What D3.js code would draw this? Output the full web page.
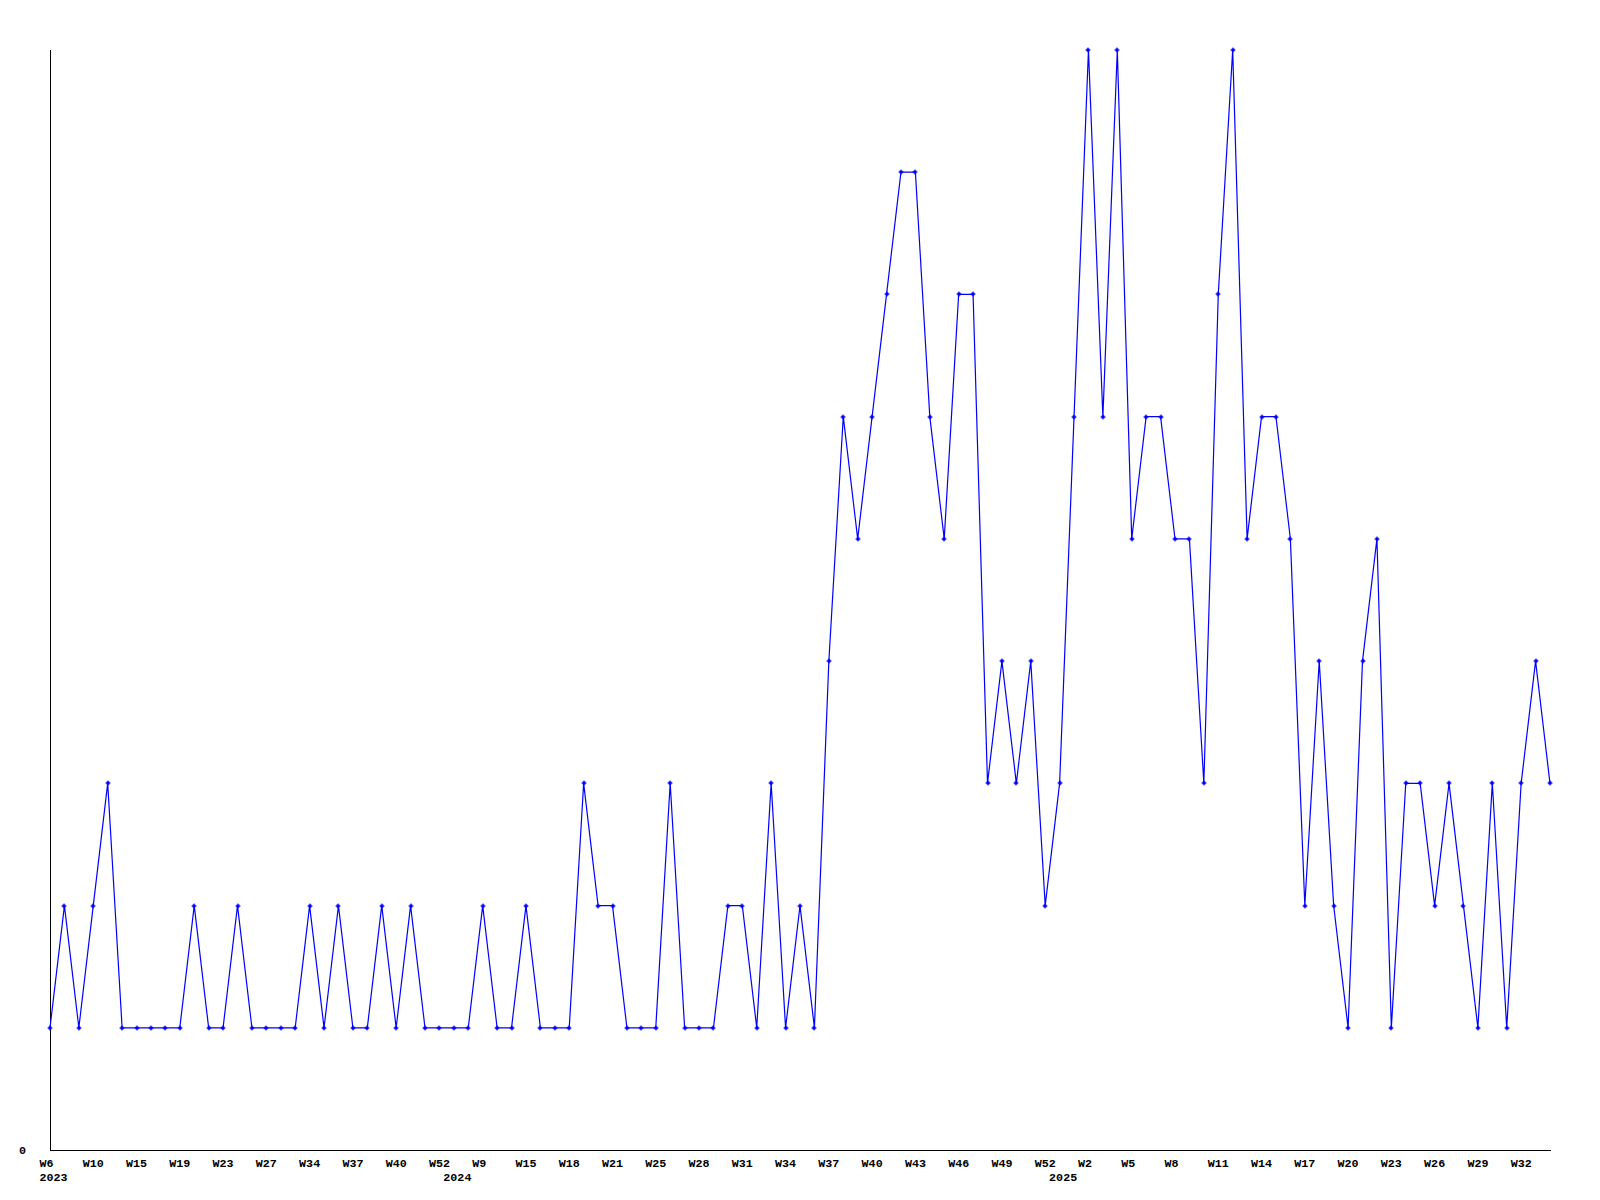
<!DOCTYPE html>
<html>
<head>
<meta charset="utf-8">
<script src="https://cdn.jsdelivr.net/npm/d3@7"></script>
<style>
  html, body { margin: 0; padding: 0; background: #fff; }
  svg { display: block; }
  text { font-family: "Liberation Mono", "DejaVu Sans Mono", monospace; font-weight: bold; font-size: 11.7px; fill: #000; }
</style>
</head>
<body>
<svg id="chart" width="1600" height="1200"></svg>
<script>
// Weekly categories (year, week label) in data order
const years = [
  2023,2023,2023,2023,2023,2023,2023,2023,2023,2023,
  2023,2023,2023,2023,2023,2023,2023,2023,2023,2023,
  2023,2023,2023,2023,2023,2023,2023,2023,
  2024,2024,2024,2024,2024,2024,2024,2024,2024,2024,
  2024,2024,2024,2024,2024,2024,2024,2024,2024,2024,
  2024,2024,2024,2024,2024,2024,2024,2024,2024,2024,
  2024,2024,2024,2024,2024,2024,2024,2024,2024,2024,
  2024,2024,
  2025,2025,2025,2025,2025,2025,2025,2025,2025,2025,
  2025,2025,2025,2025,2025,2025,2025,2025,2025,2025,
  2025,2025,2025,2025,2025,2025,2025,2025,2025,2025,
  2025,2025,2025,2025,2025
];
const weeks = [
  6,7,8,10,11,13,15,16,17,19,
  20,22,23,24,26,27,29,31,34,35,
  36,37,38,39,40,43,48,52,
  1,5,9,11,13,15,16,17,18,19,
  20,21,23,24,25,26,27,28,29,30,
  31,32,33,34,35,36,37,38,39,40,
  41,42,43,44,45,46,47,48,49,50,
  51,52,
  0,1,2,3,4,5,6,7,8,9,
  10,11,12,13,14,15,16,17,18,19,
  20,21,22,23,24,25,26,27,28,29,
  30,31,32,33,34
];
const values = [
  1,2,1,2,3,1,1,1,1,1,
  2,1,1,2,1,1,1,1,2,1,
  2,1,1,2,1,2,1,1,1,1,
  2,1,1,2,1,1,1,3,2,2,
  1,1,1,3,1,1,1,2,2,1,
  3,1,2,1,4,6,5,6,7,8,
  8,6,5,7,7,3,4,3,4,2,
  3,6,9,6,9,5,6,6,5,5,
  3,7,9,5,6,6,5,2,4,2,
  1,4,5,1,3,3,2,3,2,1,
  3,1,3,4,3
];
const yTickValues = [0];
const tickEvery = 3;

const categories = years.map((yr, i) => yr + "-W" + weeks[i]);
const data = categories.map((c, i) => ({ key: c, year: years[i], week: weeks[i], value: values[i] }));

const svg = d3.select("#chart");
const plotLeft = 50, plotRight = 1550, plotTop = 50, plotBottom = 1150;

const x = d3.scalePoint().domain(categories).range([plotLeft, plotRight]);
const y = d3.scaleLinear().domain([0, d3.max(values)]).range([plotBottom, plotTop]);

// axes
svg.append("line").attr("x1", plotLeft + 0.5).attr("x2", plotLeft + 0.5).attr("y1", plotTop).attr("y2", plotBottom + 1)
  .attr("stroke", "#000").attr("stroke-width", 1).attr("shape-rendering", "crispEdges");
svg.append("line").attr("x1", plotLeft).attr("x2", plotRight + 1).attr("y1", plotBottom + 0.5).attr("y2", plotBottom + 0.5)
  .attr("stroke", "#000").attr("stroke-width", 1).attr("shape-rendering", "crispEdges");

// y tick label(s)
svg.selectAll("text.ytick").data(yTickValues).join("text")
  .attr("class", "ytick")
  .attr("x", 26).attr("y", d => y(d) + 4)
  .attr("text-anchor", "end")
  .text(d => d);

// x tick labels: every third category
const ticks = data.filter((d, i) => i % tickEvery === 0);
svg.selectAll("text.xtick").data(ticks).join("text")
  .attr("class", "xtick")
  .attr("x", d => x(d.key) - 10.5)
  .attr("y", plotBottom + 17)
  .text(d => "W" + d.week);

// year labels at first point of each year
const yearStarts = data.filter((d, i) => i === 0 || data[i - 1].year !== d.year);
svg.selectAll("text.year").data(yearStarts).join("text")
  .attr("class", "year")
  .attr("x", d => x(d.key) - 10.5)
  .attr("y", plotBottom + 31)
  .text(d => d.year);

// line
const line = d3.line().x(d => x(d.key)).y(d => y(d.value));
svg.append("path").datum(data)
  .attr("d", line)
  .attr("fill", "none")
  .attr("stroke", "#0000ff")
  .attr("stroke-width", 1.2);

// markers
const marker = "M-2.5,-0.5h5v1h-5z M-0.5,-2.5h1v5h-1z M-1.5,-1.5h3v3h-3z";
svg.selectAll("path.pt").data(data).join("path")
  .attr("class", "pt")
  .attr("transform", d => `translate(${Math.round(x(d.key))},${Math.round(y(d.value))})`)
  .attr("d", marker)
  .attr("fill", "#0000ff");
</script>
</body>
</html>
